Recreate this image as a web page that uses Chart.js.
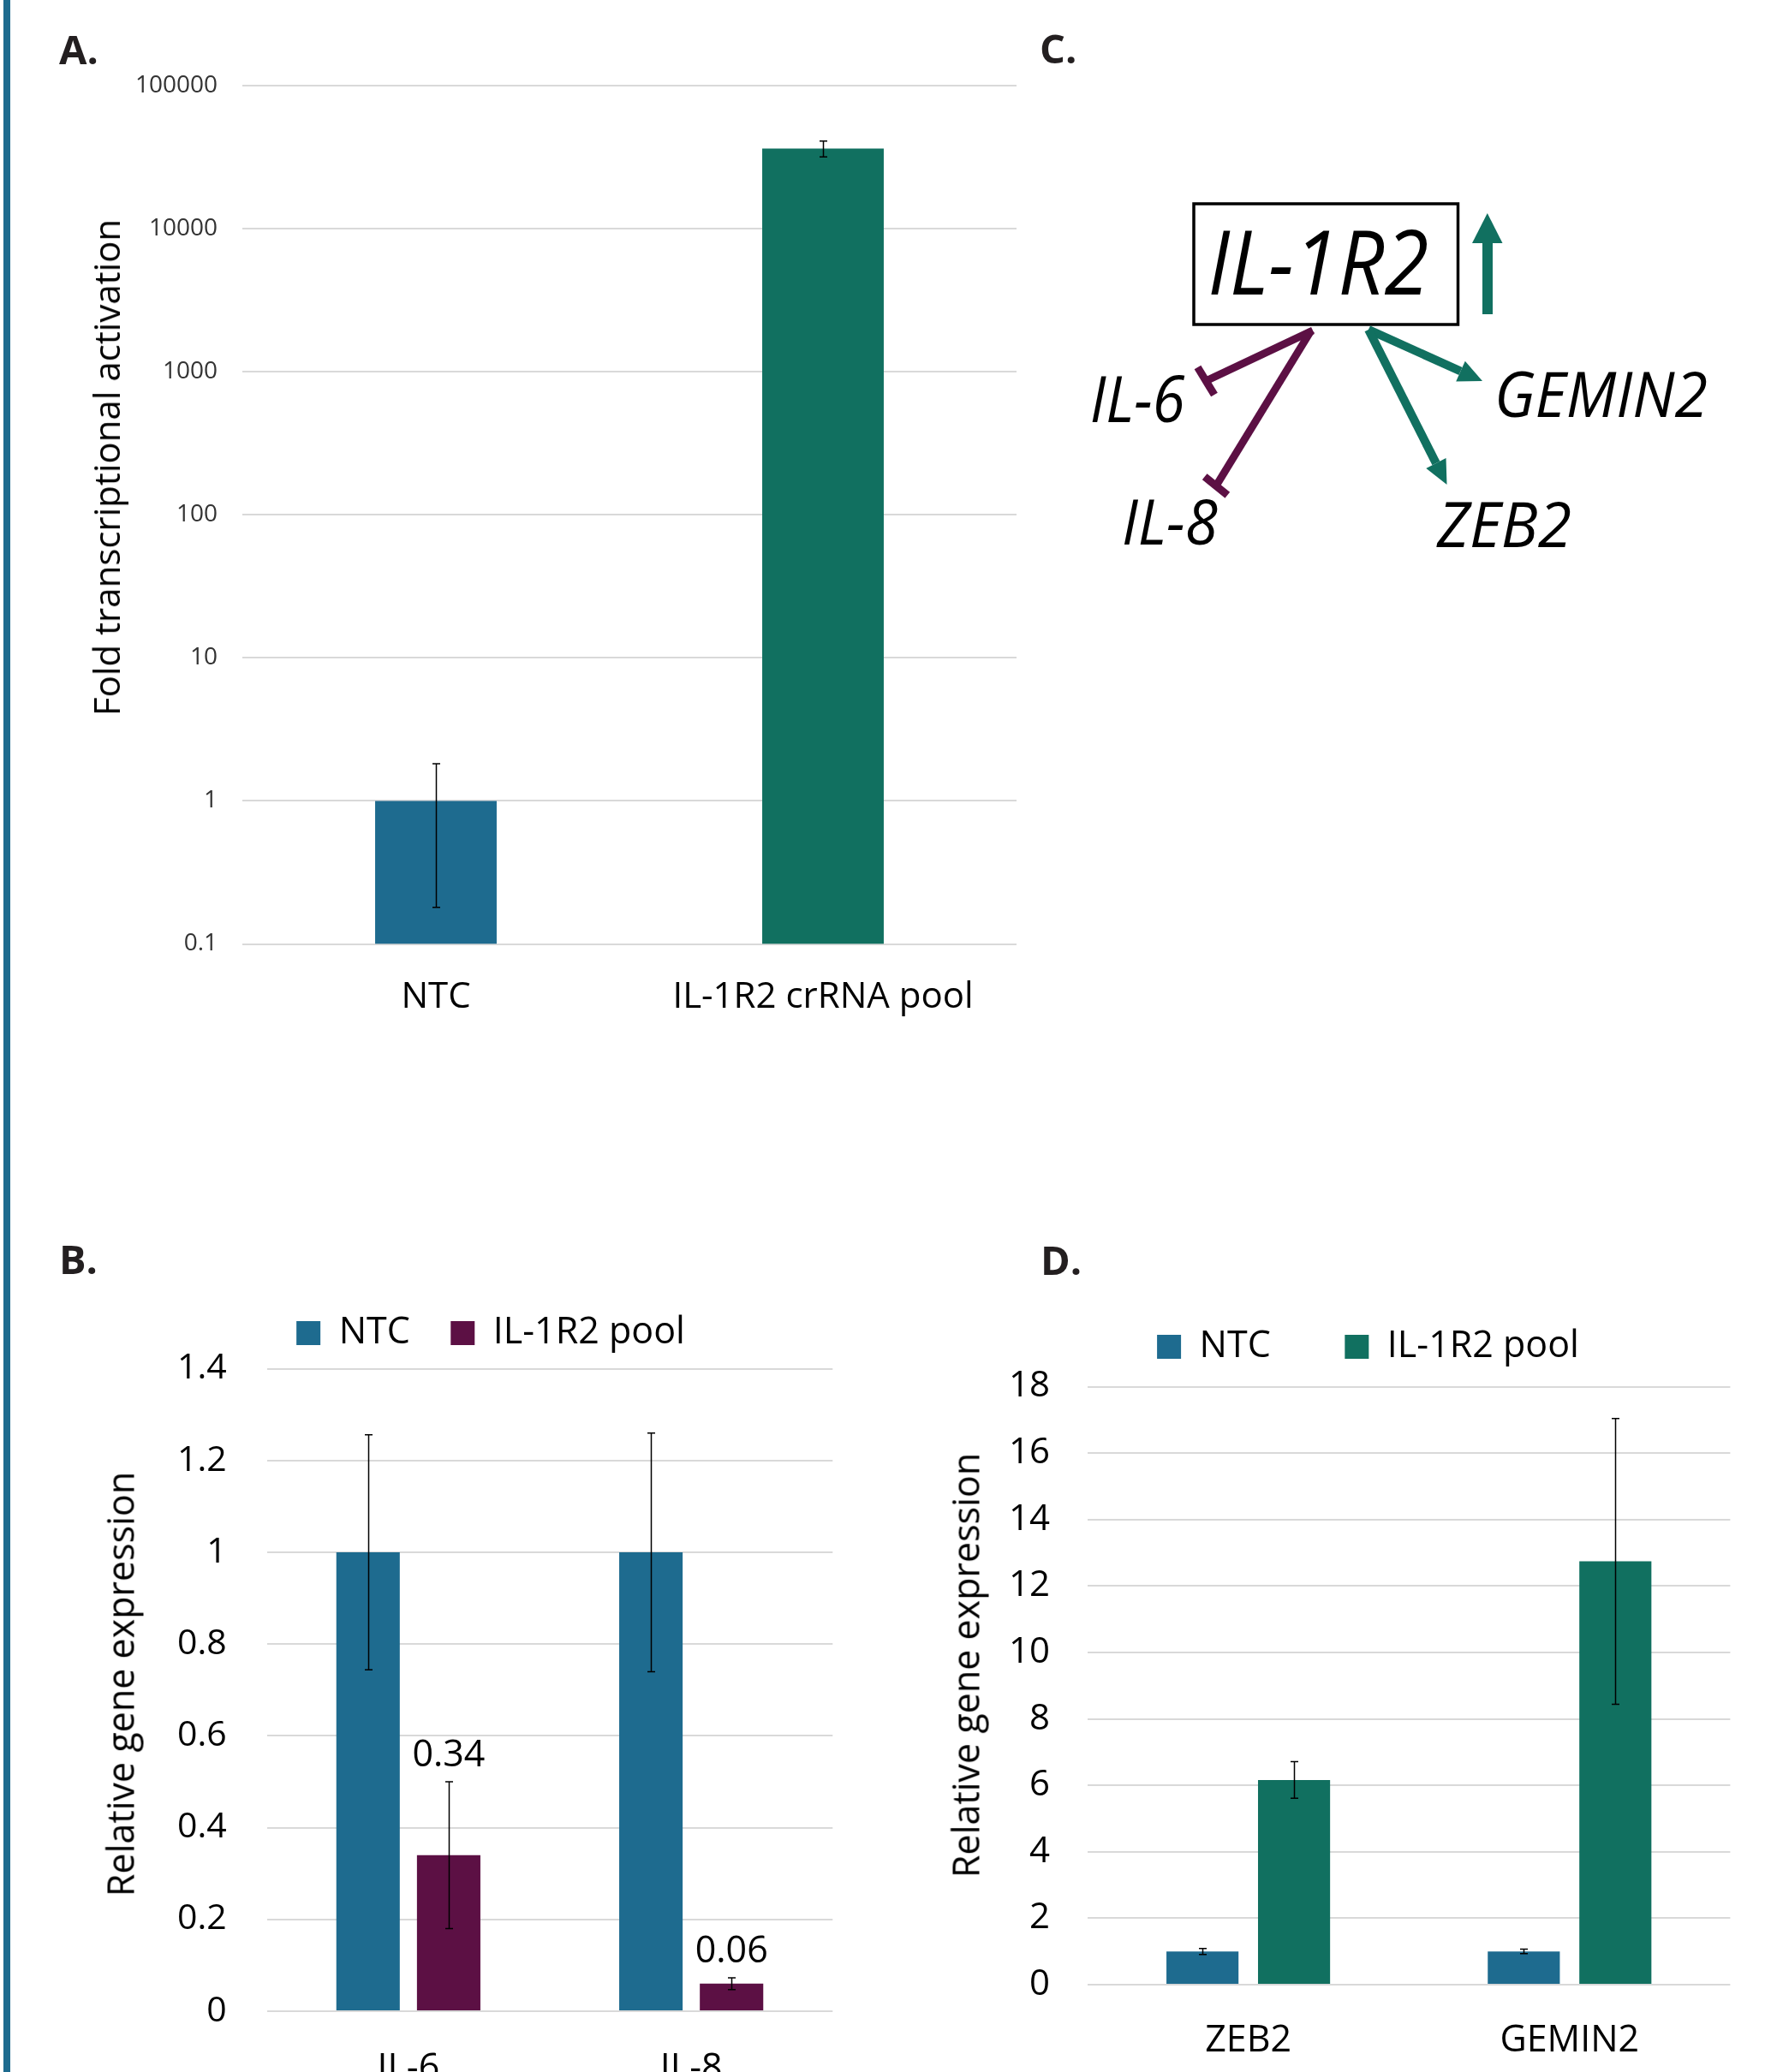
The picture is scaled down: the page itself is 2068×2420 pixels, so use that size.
<!DOCTYPE html>
<html>
<head>
<meta charset="utf-8">
<script src="https://cdn.jsdelivr.net/npm/chart.js@4.4.1/dist/chart.umd.min.js"></script>
<style>
html, body { margin:0; padding:0; background:#fff; overflow:hidden; }
#page { position:relative; width:2068px; height:2420px; overflow:hidden; background:#fff; font-family:'Open Sans', sans-serif; }
#page canvas { position:absolute; }
.plabel { position:absolute; font-weight:700; font-size:47px; line-height:1; color:#231f20; transform:translate(0,-50%); white-space:nowrap; }
.ytitle { position:absolute; white-space:nowrap; line-height:1; color:#000; transform:translate(-50%,-50%) rotate(-90deg); }
.sidebar { position:absolute; left:4px; top:0; width:8px; height:2420px; background:#1e6b8f; }
svg text { font-family:'Open Sans', sans-serif; font-style:italic; fill:#000; }
</style>
</head>
<body>
<div id="page">
  <div class="sidebar"></div>

  <canvas id="cA" width="1240" height="1250" style="left:0px;top:0px;"></canvas>
  <canvas id="cB" width="1146" height="1061" style="left:0px;top:1488px;"></canvas>
  <canvas id="cD" width="1015" height="1053" style="left:1090px;top:1465px;"></canvas>

  <div class="plabel" style="left:69px;top:57px;">A.</div>
  <div class="plabel" style="left:1214px;top:56px;">C.</div>
  <div class="plabel" style="left:69px;top:1470px;">B.</div>
  <div class="plabel" style="left:1215px;top:1471px;">D.</div>

  <div class="ytitle" style="left:124px;top:546px;font-size:42px;">Fold transcriptional activation</div>
  <div class="ytitle" style="left:140px;top:1967px;font-size:43px;">Relative gene expression</div>
  <div class="ytitle" style="left:1127px;top:1945px;font-size:43px;">Relative gene expression</div>

  <svg width="2068" height="720" style="position:absolute;left:0;top:0;" xmlns="http://www.w3.org/2000/svg">
    <rect x="1394" y="238" width="308.5" height="141" fill="none" stroke="#000" stroke-width="3.5"/>
    <text x="1539.4" y="344" text-anchor="middle" font-size="104" textLength="258" lengthAdjust="spacingAndGlyphs">IL-1R2</text>
    <rect x="1731" y="282" width="12" height="85" fill="#117060"/>
    <polygon points="1719,284 1754.5,284 1736.8,249" fill="#117060"/>
    <g stroke="#5C1044" stroke-width="9" fill="none">
      <line x1="1533" y1="386" x2="1408" y2="445"/>
      <line x1="1398.5" y1="429" x2="1418" y2="461"/>
      <line x1="1531" y1="386" x2="1420" y2="567.5"/>
      <line x1="1406.7" y1="556.7" x2="1433.3" y2="578.3"/>
    </g>
    <g stroke="#117060" stroke-width="10">
      <line x1="1598" y1="385" x2="1705.5" y2="433.5"/>
      <line x1="1598" y1="385" x2="1676.9" y2="541"/>
    </g>
    <polygon points="1731,445 1700.2,445.4 1710.8,421.7" fill="#117060"/>
    <polygon points="1689.5,566 1665.3,546.9 1688.5,535.1" fill="#117060"/>
    <text x="1272.7" y="493.3" font-size="75" textLength="111" lengthAdjust="spacingAndGlyphs">IL-6</text>
    <text x="1310" y="636" font-size="74" textLength="112" lengthAdjust="spacingAndGlyphs">IL-8</text>
    <text x="1745" y="486.7" font-size="74" textLength="249" lengthAdjust="spacingAndGlyphs">GEMIN2</text>
    <text x="1678" y="639.3" font-size="73" textLength="157" lengthAdjust="spacingAndGlyphs">ZEB2</text>
  </svg>
</div>

<script>
// ---------------- DATA ----------------
// Panel A: fold transcriptional activation (log scale)
const catsA = ['NTC', 'IL-1R2 crRNA pool'];
const valuesA = [1, 36300];
const errorsA = [0.82, 4600];
const yTicksA = [0.1, 1, 10, 100, 1000, 10000, 100000];

// Panel B: IL-6 / IL-8 relative expression
const catsB = ['IL-6', 'IL-8'];
const ntcB = [1, 1];
const ntcErrB = [0.256, 0.26];
const poolB = [0.34, 0.06];
const poolErrB = [0.16, 0.013];
const yTicksB = [0, 0.2, 0.4, 0.6, 0.8, 1, 1.2, 1.4];

// Panel D: ZEB2 / GEMIN2 relative expression
const catsD = ['ZEB2', 'GEMIN2'];
const ntcD = [1, 1];
const ntcErrD = [0.09, 0.067];
const poolD = [6.16, 12.74];
const poolErrD = [0.55, 4.3];
const yTicksD = [0, 2, 4, 6, 8, 10, 12, 14, 16, 18];

const seriesNames = ['NTC', 'IL-1R2 pool'];

// ---------------- STYLE ----------------
const BLUE = '#1E6B8F';
const TEAL = '#117060';
const PURPLE = '#5C1044';
const GRID = '#D9D9D9';

Chart.defaults.font.family = "'Open Sans', sans-serif";
Chart.defaults.color = '#000';
Chart.defaults.animation = false;

const fixWidth = w => s => { s.width = w; };
const fixHeight = h => s => { s.height = h; };
const setTicks = arr => s => { s.ticks = arr.map(v => ({ value: v })); };

const errorBarsPlugin = {
  id: 'errorBars',
  afterDatasetsDraw(chart, args, opts) {
    const ctx = chart.ctx;
    const y = chart.scales.y;
    ctx.save();
    ctx.strokeStyle = opts.color || '#000';
    ctx.lineWidth = opts.width || 1.5;
    const cap = opts.cap || 4.5;
    chart.data.datasets.forEach((ds, di) => {
      if (!ds.errors) return;
      const meta = chart.getDatasetMeta(di);
      meta.data.forEach((bar, i) => {
        const v = ds.data[i], e = ds.errors[i];
        const yt = y.getPixelForValue(v + e);
        const yb = y.getPixelForValue(v - e);
        const x = Math.round(bar.x) + 0.5;
        ctx.beginPath();
        ctx.moveTo(x, yt); ctx.lineTo(x, yb);
        ctx.moveTo(x - cap, yt); ctx.lineTo(x + cap, yt);
        ctx.moveTo(x - cap, yb); ctx.lineTo(x + cap, yb);
        ctx.stroke();
      });
    });
    ctx.restore();
  }
};

const valueLabelsPlugin = {
  id: 'valueLabels',
  afterDatasetsDraw(chart, args, opts) {
    const ctx = chart.ctx;
    const y = chart.scales.y;
    ctx.save();
    ctx.fillStyle = '#000';
    ctx.font = (opts.size || 43) + "px 'Open Sans', sans-serif";
    ctx.textAlign = 'center';
    ctx.textBaseline = 'middle';
    chart.data.datasets.forEach((ds, di) => {
      if (!ds.showValues) return;
      const meta = chart.getDatasetMeta(di);
      meta.data.forEach((bar, i) => {
        const v = ds.data[i], e = ds.errors ? ds.errors[i] : 0;
        const yt = y.getPixelForValue(v + e);
        ctx.fillText(v.toFixed(2), bar.x, yt - (opts.offset || 30));
      });
    });
    ctx.restore();
  }
};

// adds extra space between the legend row and the plot area
const legendGapPlugin = {
  id: 'legendGap',
  beforeLayout(chart, args, opts) {
    const lg = chart.legend;
    if (!lg || lg._gapPatched) return;
    const fit = lg.fit;
    lg.fit = function () { fit.call(this); this.height += (opts.extra || 0); };
    lg._gapPatched = true;
  }
};

// ---------------- PANEL A ----------------
new Chart(document.getElementById('cA'), {
  type: 'bar',
  data: {
    labels: catsA,
    datasets: [{ data: valuesA, errors: errorsA, backgroundColor: [BLUE, TEAL], borderWidth: 0,
                 categoryPercentage: 0.314, barPercentage: 1 }]
  },
  options: {
    responsive: false, animation: false,
    layout: { padding: { top: 100, right: 53, left: 0, bottom: 0 } },
    plugins: { legend: { display: false }, tooltip: { enabled: false },
               errorBars: { color: '#000', width: 1.5, cap: 4.5 } },
    scales: {
      x: { grid: { display: false }, border: { display: false },
           ticks: { font: { size: 42 }, color: '#000', padding: 29 },
           afterFit: fixHeight(147.5) },
      y: { type: 'logarithmic', min: 0.1, max: 100000,
           afterBuildTicks: setTicks(yTicksA),
           ticks: { font: { size: 28 }, color: '#333', padding: 29, autoSkip: false, callback: v => String(v) },
           grid: { color: GRID, lineWidth: 2, drawTicks: false },
           border: { display: false },
           afterFit: fixWidth(283) }
    }
  },
  plugins: [errorBarsPlugin]
});

// ---------------- PANEL B ----------------
new Chart(document.getElementById('cB'), {
  type: 'bar',
  data: {
    labels: catsB,
    datasets: [
      { label: seriesNames[0], data: ntcB, errors: ntcErrB, backgroundColor: BLUE, borderWidth: 0 },
      { label: seriesNames[1], data: poolB, errors: poolErrB, backgroundColor: PURPLE, borderWidth: 0, showValues: true }
    ]
  },
  options: {
    responsive: false, animation: false,
    layout: { padding: 0 },
    datasets: { bar: { categoryPercentage: 0.57, barPercentage: 0.787 } },
    plugins: {
      legend: { position: 'top', align: 'center',
                labels: { font: { size: 43 }, color: '#000', boxWidth: 28, boxHeight: 28, padding: 47.5 } },
      legendGap: { extra: 10.2 },
      tooltip: { enabled: false },
      errorBars: { color: '#000', width: 1.5, cap: 4.5 },
      valueLabels: { size: 43, offset: 30 }
    },
    scales: {
      x: { grid: { display: false }, border: { display: false },
           ticks: { font: { size: 43 }, color: '#000', padding: 34 },
           afterFit: fixHeight(200) },
      y: { min: 0, max: 1.4,
           afterBuildTicks: setTicks(yTicksB),
           ticks: { font: { size: 41 }, color: '#000', padding: 47, autoSkip: false,
                    callback: v => String(Math.round(v * 10) / 10) },
           grid: { color: GRID, lineWidth: 2, drawTicks: false },
           border: { display: false },
           afterFit: fixWidth(311.7) },
      yR: { position: 'right', grid: { display: false }, border: { display: false },
            ticks: { display: false }, afterFit: fixWidth(173.7) }
    }
  },
  plugins: [legendGapPlugin, errorBarsPlugin, valueLabelsPlugin]
});

// ---------------- PANEL D ----------------
new Chart(document.getElementById('cD'), {
  type: 'bar',
  data: {
    labels: catsD,
    datasets: [
      { label: seriesNames[0], data: ntcD, errors: ntcErrD, backgroundColor: BLUE, borderWidth: 0 },
      { label: seriesNames[1], data: poolD, errors: poolErrD, backgroundColor: TEAL, borderWidth: 0 }
    ]
  },
  options: {
    responsive: false, animation: false,
    layout: { padding: 0 },
    datasets: { bar: { categoryPercentage: 0.57, barPercentage: 0.787 } },
    plugins: {
      legend: { position: 'top', align: 'center',
                labels: { font: { size: 43 }, color: '#000', boxWidth: 28, boxHeight: 28, padding: 86.6 } },
      legendGap: { extra: 14.9 },
      tooltip: { enabled: false },
      errorBars: { color: '#000', width: 1.5, cap: 4.5 }
    },
    scales: {
      x: { grid: { display: false }, border: { display: false },
           ticks: { font: { size: 43 }, color: '#000', padding: 32 },
           afterFit: fixHeight(200) },
      y: { min: 0, max: 18,
           afterBuildTicks: setTicks(yTicksD),
           ticks: { font: { size: 42 }, color: '#000', padding: 44, autoSkip: false },
           grid: { color: GRID, lineWidth: 2, drawTicks: false },
           border: { display: false },
           afterFit: fixWidth(180) },
      yR: { position: 'right', grid: { display: false }, border: { display: false },
            ticks: { display: false }, afterFit: fixWidth(84.6) }
    }
  },
  plugins: [legendGapPlugin, errorBarsPlugin]
});
</script>
</body>
</html>
